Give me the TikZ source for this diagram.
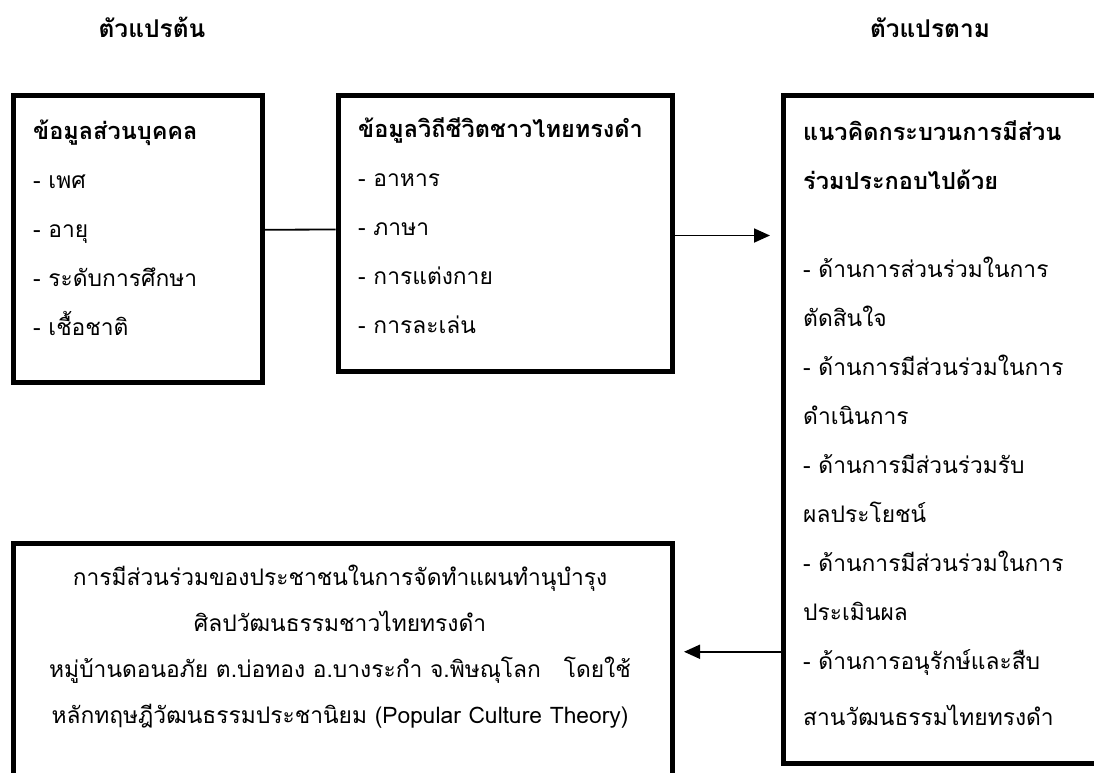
\documentclass[tikz,border=0pt]{standalone}
\usepackage{fontspec}
\setmainfont[Script=Thai]{Loma}
\usetikzlibrary{arrows.meta}
\newcommand{\boxhead}[1]{{\bfseries\fontsize{23.5}{49}\selectfont #1}}

\begin{document}
\begin{tikzpicture}[
  x=1pt, y=-1pt,
  font=\fontsize{22.8}{49}\selectfont,
  >={Triangle[length=16pt,width=14pt]},
  frame/.style={draw=black, line width=5pt, inner sep=0pt, anchor=north west},
  txt/.style={anchor=north west, align=left, inner sep=0pt},
  head/.style={font=\fontsize{24.5}{49}\selectfont\bfseries, anchor=base, inner sep=0pt},
  link/.style={line width=1.8pt, draw=black},
  arr/.style={->, line width=1.8pt, draw=black},
]
\useasboundingbox (0,0) rectangle (1094,772);

% titles
\node[head] (indep) at (152,37) {ตัวแปรต้น};
\node[head] (dep) at (930,37) {ตัวแปรตาม};

% boxes
\node[frame, minimum width=249pt, minimum height=286.5pt] (personal) at (10.5,93) {};
\node[frame, minimum width=334pt, minimum height=276pt] (lifestyle) at (335.5,92.5) {};
\node[frame, minimum width=316.5pt, minimum height=667.5pt] (concept) at (780.5,93) {};
\node[frame, minimum width=659pt, minimum height=235.5pt] (outcome) at (10.5,540.5) {};

% box texts
\node[txt] (personaltxt) at (33,105) {\strut\boxhead{ข้อมูลส่วนบุคคล}\\- เพศ\\- อายุ\\- ระดับการศึกษา\\- เชื้อชาติ};
\node[txt] (lifestyletxt) at (358,103) {\strut\boxhead{ข้อมูลวิถีชีวิตชาวไทยทรงดำ}\\- อาหาร\\- ภาษา\\- การแต่งกาย\\- การละเล่น};
\node[txt] (concepttxt) at (803,106) {\strut\boxhead{แนวคิดกระบวนการมีส่วน}\\\boxhead{ร่วมประกอบไปด้วย}\\[39pt]
  - ด้านการส่วนร่วมในการ\\ตัดสินใจ\\- ด้านการมีส่วนร่วมในการ\\ดำเนินการ\\- ด้านการมีส่วนร่วมรับ\\ผลประโยชน์\\
  - ด้านการมีส่วนร่วมในการ\\ประเมินผล\\- ด้านการอนุรักษ์และสืบ\\[7pt]สานวัฒนธรรมไทยทรงดำ};
\node[anchor=north, align=center, inner sep=0pt, font=\fontsize{22.8}{46}\selectfont] (outcometxt) at (340,553)
  {\strut การมีส่วนร่วมของประชาชนในการจัดทำแผนทำนุบำรุง\\ศิลปวัฒนธรรมชาวไทยทรงดำ\\
   หมู่บ้านดอนอภัย ต.บ่อทอง อ.บางระกำ จ.พิษณุโลก\quad โดยใช้\\หลักทฤษฎีวัฒนธรรมประชานิยม (Popular Culture Theory)};

% connectors
\draw[link] ([yshift=9pt]personal.east) -- ([yshift=3.5pt]lifestyle.west);
\draw[arr, shorten >=10.5pt] ([yshift=-2.5pt]lifestyle.east) -- ([yshift=-2.5pt]lifestyle.east -| concept.west);
\draw[arr, shorten >=9.5pt] ([yshift=9pt]outcome.east -| concept.west) -- ([yshift=9pt]outcome.east);
\end{tikzpicture}
\end{document}
